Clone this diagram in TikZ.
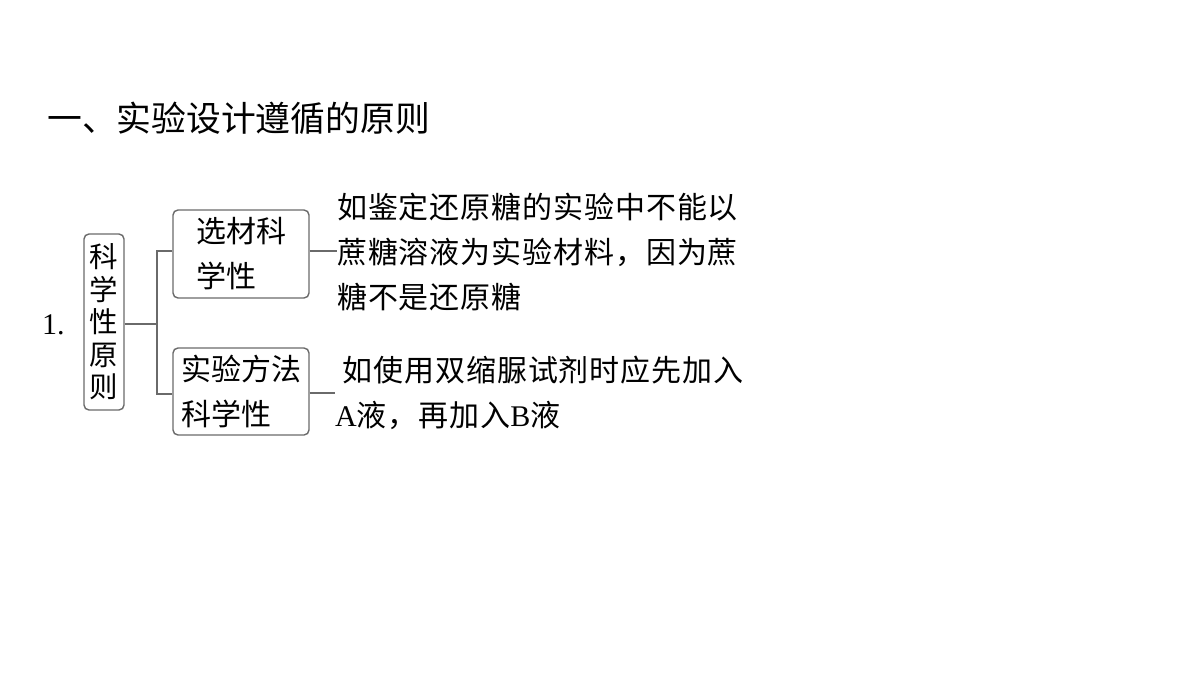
\documentclass[tikz,border=0pt]{standalone}
\usepackage{fontspec}
\setmainfont{Liberation Serif}
\newfontfamily\cjk{Noto Sans CJK SC}
\newfontfamily\cjkwide[LetterSpace=3]{Noto Sans CJK SC}
\usepackage{tikz}
\usepackage{xcolor}
\definecolor{framegray}{HTML}{6A6A6A}
\newcommand{\lat}[1]{{\rmfamily #1}}

\begin{document}
\begin{tikzpicture}[x=1pt,y=-1pt,
  box/.style={draw=framegray,line width=1.4pt,rounded corners=5pt,inner sep=0pt},
  link/.style={draw=framegray,line width=1.4pt},
  body/.style={inner sep=0pt,align=left,font=\cjkwide\fontsize{30}{45}\selectfont}]
\useasboundingbox[fill=white] (0,0) rectangle (1200,675);
%%%TITLE
\node[anchor=west,inner sep=0pt,font=\cjk\fontsize{34.8}{40}\selectfont] (title) at (47,118) {一、实验设计遵循的原则};
%%%BOXES
\node[anchor=west,inner sep=0pt,font=\fontsize{30}{36}\selectfont] (num) at (42,325) {1.};
\node[box,minimum width=40pt,minimum height=176pt,align=center,font=\cjk\fontsize{28.5}{32.5}\selectfont] (root) at (104,322) {科\\学\\性\\原\\则};
\node[box,minimum width=136pt,minimum height=88pt,align=left,font=\cjk\fontsize{30}{45}\selectfont] (sel) at (241,254) {选材科\\学性};
\node[box,minimum width=136pt,minimum height=87pt,align=left,font=\cjk\fontsize{30}{45}\selectfont] (meth) at (241,391.5) {实验方法\\科学性};
%%%TEXTS
\node[body,anchor=west] (selnote) at (337,252) {如鉴定还原糖的实验中不能以\\蔗糖溶液为实验材料，因为蔗\\糖不是还原糖};
\node[body,anchor=west] (methnote) at (335,392.5) {\hspace{0.25em}如使用双缩脲试剂时应先加入\\\lat{A}液，再加入\lat{B}液};
%%%LINKS
\coordinate (fork) at (157,324);
\draw[link] (root.east |- fork) -- (fork);
\draw[link] (fork) |- (sel.west |- 0,251);
\draw[link] (fork) |- (meth.west |- 0,394);
\draw[link] (sel.east |- 0,251) -- (selnote.west |- 0,251);
\draw[link] (meth.east |- 0,393) -- (methnote.west |- 0,393);
\end{tikzpicture}
\end{document}
